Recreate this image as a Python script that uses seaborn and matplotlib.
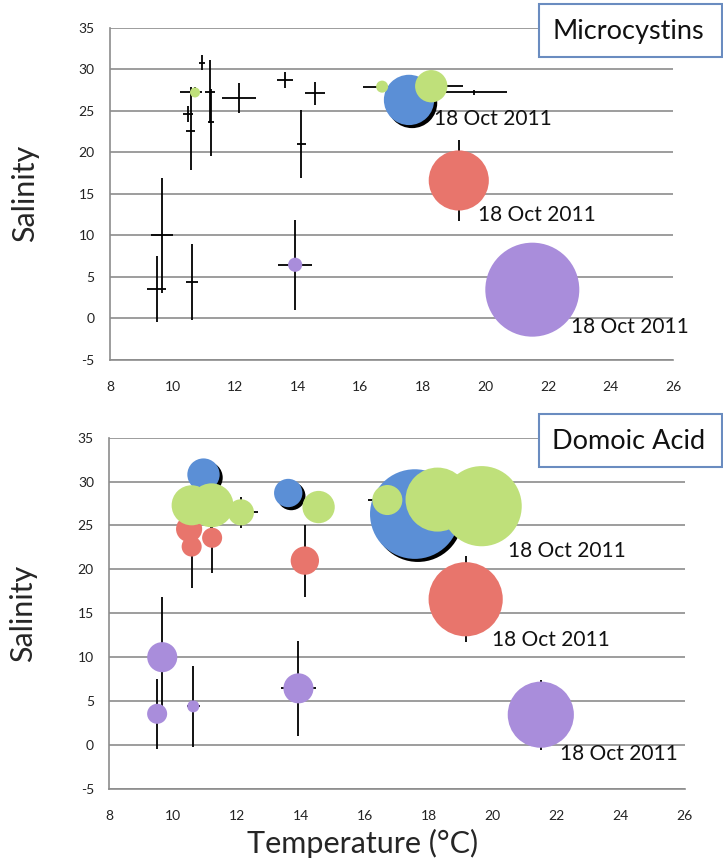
import numpy as np
import pandas as pd
import matplotlib
matplotlib.use("Agg")
import matplotlib.pyplot as plt
import matplotlib.transforms as mtransforms
from matplotlib.patches import Rectangle
import seaborn as sns

# ============================================================================
# DATA
# ============================================================================
group = ["blue"] * 3 + ["red"] * 5 + ["green"] * 8 + ["purple"] * 5
temp = [10.95, 13.6, 17.56,
        10.5, 10.58, 11.22, 14.12, 19.15,
        10.58, 10.72, 11.2, 12.12, 14.55, 16.7, 18.27, 19.65,
        9.66, 9.5, 10.63, 13.92, 21.5]
salinity = [30.8, 28.7, 26.3,
            24.6, 22.6, 23.6, 21.0, 16.6,
            27.3, 27.2, 27.3, 26.5, 27.1, 27.9, 27.95, 27.2,
            10.0, 3.55, 4.4, 6.45, 3.45]
temp_err = [0.1, 0.25, 0.0,
            0.15, 0.15, 0.1, 0.15, 0.1,
            0.35, 0.05, 0.15, 0.55, 0.32, 0.6, 1.0, 1.05,
            0.35, 0.3, 0.2, 0.55, 0.0]
sal_err = [0.9, 1.0, 0.0,
           1.0, 4.7, 4.0, 4.1, 4.9,
           0.5, 0.6, 3.8, 1.8, 1.4, 0.3, 0.3, 0.3,
           6.9, 4.0, 4.6, 5.4, 4.0]
microcystins = [0, 0, 6.3,
                0, 0, 0, 0, 9.0,
                0, 0.25, 0, 0, 0, 0.36, 2.6, 0,
                0, 0, 0, 0.5, 22.0]
domoic_acid = [2.6, 2.0, 20.0,
               1.7, 1.0, 1.0, 2.0, 13.7,
               4.0, 3.2, 4.8, 1.7, 2.6, 2.25, 10.2, 16.0,
               2.25, 1.0, 0.36, 2.25, 10.9]
date_label = "18 Oct 2011"
# rows carrying the date label in each panel
mc_labelled = [2, 7, 20]
da_labelled = [15, 7, 20]

x_ticks = [8, 10, 12, 14, 16, 18, 20, 22, 24, 26]
y_ticks = [-5, 0, 5, 10, 15, 20, 25, 30, 35]

palette = {"blue": "#5b8fd6", "red": "#e8756c",
           "green": "#bfe07a", "purple": "#a98ddb"}

df = pd.DataFrame({"group": group, "temp": temp, "salinity": salinity,
                   "temp_err": temp_err, "sal_err": sal_err,
                   "mc": microcystins, "da": domoic_acid})

SIZE_MAX = (2 * 47 * 0.72) ** 2   # largest bubble, points^2
SIZE_NORM = 22.0
GRID = "#8c8c8c"

sns.set_style("white")
plt.rcParams["font.family"] = ["Lato", "DejaVu Sans"]
plt.rcParams["axes.unicode_minus"] = False


def bubble_panel(ax, col, title, labelled, offsets):
    """Bubble chart of salinity vs temperature with error bars"""
    ax.errorbar(df["temp"], df["salinity"], xerr=df["temp_err"], yerr=df["sal_err"],
                fmt="none", ecolor="black", elinewidth=1.3, capsize=0, zorder=1)

    # black shadow under the blue bubbles
    blue = df[df["group"] == "blue"]
    shadow = mtransforms.offset_copy(ax.transData, fig=ax.figure, x=2.2, y=-2.2, units="points")
    ax.scatter(blue["temp"], blue["salinity"], s=SIZE_MAX * blue[col] / SIZE_NORM,
               color="black", linewidths=0, transform=shadow, zorder=2)

    sns.scatterplot(data=df, x="temp", y="salinity", hue="group", palette=palette,
                    size=col, sizes=(0, SIZE_MAX), size_norm=(0, SIZE_NORM),
                    linewidth=0, legend=False, ax=ax, zorder=3)

    for i, (dx, dy) in zip(labelled, offsets):
        ax.annotate(date_label, (df["temp"][i], df["salinity"][i]),
                    xytext=(dx, dy), textcoords="offset points",
                    ha="left", va="center", fontsize=15, color="#111111", zorder=4)

    ax.set_xlim(8, 26)
    ax.set_ylim(-5, 35)
    ax.set_xticks(x_ticks)
    ax.set_yticks(y_ticks)
    ax.yaxis.grid(True, color=GRID, lw=1.2)
    ax.xaxis.grid(False)
    for side in ["top", "right"]:
        ax.spines[side].set_visible(False)
    for side in ["left", "bottom"]:
        ax.spines[side].set_color(GRID)
        ax.spines[side].set_linewidth(1.2)
    ax.tick_params(axis="x", direction="inout", length=5, width=1, color=GRID,
                   pad=13, labelsize=10, labelcolor="#222222")
    ax.tick_params(axis="y", direction="out", length=4, width=1, color=GRID,
                   pad=7, labelsize=10, labelcolor="#222222")
    ax.set_xlabel("")
    ax.set_ylabel("Salinity", fontsize=22)
    ax.yaxis.set_label_coords(-0.125, 0.5)

    # title box in the top right corner
    fig = ax.figure
    pos = ax.get_position()
    y1 = pos.y1 + 0.027
    fig.patches.append(Rectangle((0.745, y1 - 0.061), 0.253, 0.061, transform=fig.transFigure,
                                 fc="white", ec="#6a8cc0", lw=1.5, zorder=5))
    fig.text(0.764, y1 - 0.031, title, fontsize=19.5, ha="left", va="center",
             color="#111111", zorder=6)


fig = plt.figure(figsize=(7.23, 8.65), dpi=100)
ax_top = fig.add_axes([0.152, 0.584, 0.779, 0.384])
ax_bot = fig.add_axes([0.151, 0.088, 0.796, 0.406])

bubble_panel(ax_top, "mc", "Microcystins", mc_labelled, [(18, -14), (14, -25), (28, -27)])
bubble_panel(ax_bot, "da", "Domoic Acid", da_labelled, [(19, -32), (19, -29), (14, -28)])

ax_bot.set_xlabel("Temperature (°C)", fontsize=22)
ax_bot.xaxis.set_label_coords(0.44, -0.115)

fig.savefig("out.png", dpi=100)
print("saved out.png")
